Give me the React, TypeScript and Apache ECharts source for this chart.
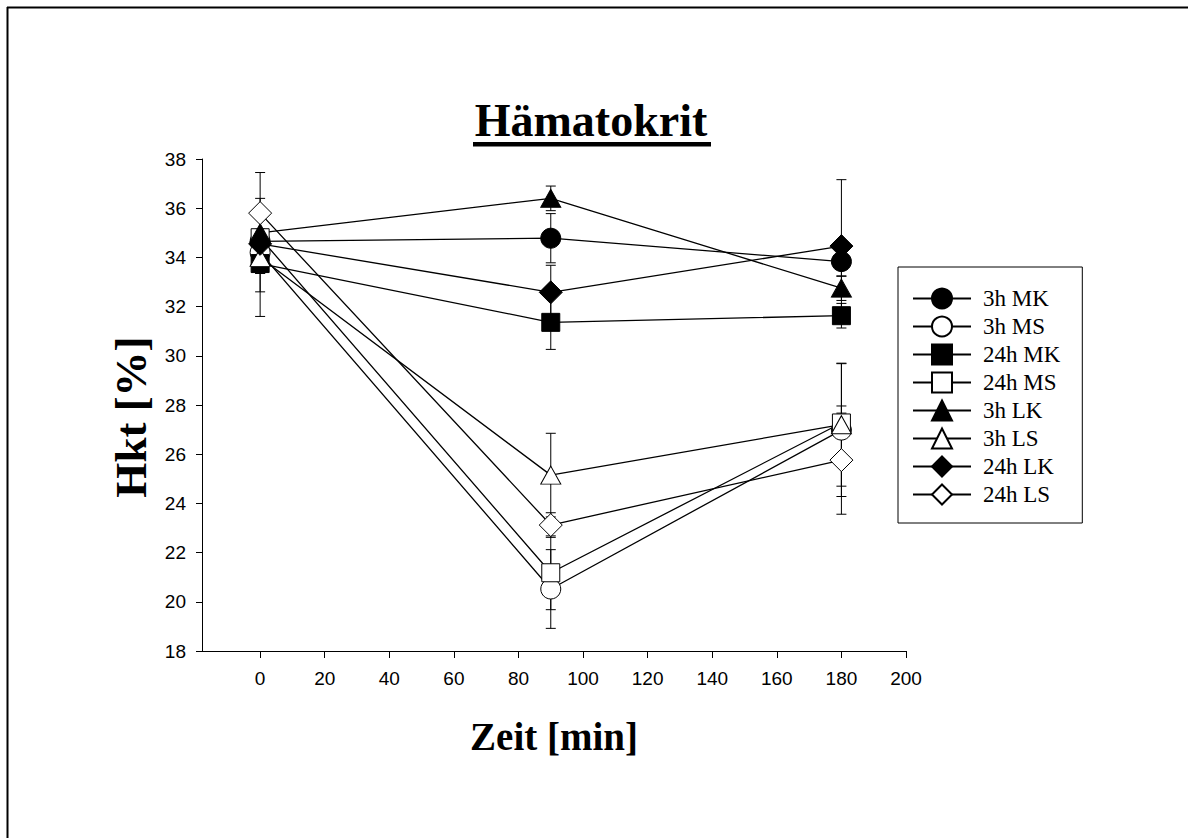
import React, { useEffect, useRef } from "react";
import * as echarts from "echarts";

const times = [0, 90, 180];
const seriesNames = ["3h MK", "3h MS", "24h MK", "24h MS", "3h LK", "3h LS", "24h LK", "24h LS"];
const mk3 = [34.65, 34.78, 33.83];
const mk3Err = [0.5, 1.0, 0.6];
const ms3 = [34.2, 20.52, 26.98];
const ms3Err = [1.6, 1.6, 2.7];
const mk24 = [33.75, 31.36, 31.63];
const mk24Err = [0.4, 1.1, 0.5];
const ms24 = [34.8, 21.18, 27.27];
const ms24Err = [1.2, 1.5, 0.4];
const lk3 = [35.0, 36.4, 32.75];
const lk3Err = [0.8, 0.5, 0.5];
const ls3 = [34.0, 25.15, 27.2];
const ls3Err = [2.4, 1.7, 2.5];
const lk24 = [34.55, 32.58, 34.46];
const lk24Err = [1.2, 1.1, 2.7];
const ls24 = [35.8, 23.12, 25.76];
const ls24Err = [1.65, 0.5, 2.2];
const xTicks = [0, 20, 40, 60, 80, 100, 120, 140, 160, 180, 200];

const values = [mk3, ms3, mk24, ms24, lk3, ls3, lk24, ls24];
const errors = [mk3Err, ms3Err, mk24Err, ms24Err, lk3Err, ls3Err, lk24Err, ls24Err];
const symbols = ["circle", "circle", "rect", "rect", "triangle", "triangle", "diamond", "diamond"];
const symbolSizes: any[] = [20, 20, 18, 18, [20, 18], [20, 18], 23, 23];
const filled = [true, false, true, false, true, false, true, false];

export default function App() {
  const ref = useRef<HTMLDivElement>(null);
  useEffect(() => {
    if (!ref.current) return;
    const chart = echarts.init(ref.current, undefined, { renderer: "svg" });
    const lineSeries = seriesNames.map((name, i) => ({
      name,
      type: "line",
      data: times.map((t, j) => [t, values[i][j]]),
      symbol: symbols[i],
      symbolSize: symbolSizes[i],
      showAllSymbol: true,
      z: 3,
      lineStyle: { color: "#000", width: 1.3 },
      itemStyle: { color: filled[i] ? "#000" : "#fff", borderColor: "#000", borderWidth: 1 },
      emphasis: { disabled: true },
    }));
    const errData: number[][] = [];
    values.forEach((v, i) => v.forEach((y, j) => errData.push([times[j], y, errors[i][j]])));
    const errSeries = {
      type: "custom",
      z: 1,
      silent: true,
      data: errData,
      renderItem: (params: any, api: any) => {
        const x = api.value(0);
        const y = api.value(1);
        const e = api.value(2);
        const hi = api.coord([x, y + e]);
        const lo = api.coord([x, y - e]);
        const hw = 5;
        const st = { stroke: "#000", lineWidth: 1 };
        return {
          type: "group",
          children: [
            { type: "line", shape: { x1: hi[0], y1: hi[1], x2: lo[0], y2: lo[1] }, style: st },
            { type: "line", shape: { x1: hi[0] - hw, y1: hi[1], x2: hi[0] + hw, y2: hi[1] }, style: st },
            { type: "line", shape: { x1: lo[0] - hw, y1: lo[1], x2: lo[0] + hw, y2: lo[1] }, style: st },
          ],
        };
      },
    };
    chart.setOption({
      animation: false,
      backgroundColor: "#fff",
      grid: { left: 202, top: 159, width: 704, height: 492 },
      xAxis: {
        type: "value",
        min: -18,
        max: 200,
        splitLine: { show: false },
        axisLine: { onZero: false, lineStyle: { color: "#000", width: 1 } },
        axisTick: { customValues: xTicks, length: 7, lineStyle: { color: "#000" } },
        axisLabel: { customValues: xTicks, margin: 18, color: "#000", fontSize: 19, fontFamily: "Liberation Sans" },
      },
      yAxis: {
        type: "value",
        min: 18,
        max: 38,
        interval: 2,
        splitLine: { show: false },
        axisLine: { show: true, onZero: false, lineStyle: { color: "#000", width: 1 } },
        axisTick: { show: true, length: 6, lineStyle: { color: "#000" } },
        axisLabel: { margin: 16, color: "#000", fontSize: 19, fontFamily: "Liberation Sans" },
      },
      legend: {
        data: seriesNames,
        orient: "vertical",
        left: 898,
        top: 267,
        itemWidth: 58,
        itemHeight: 25,
        itemGap: 5,
        padding: [20, 22, 17, 14],
        borderColor: "#000",
        borderWidth: 1,
        selectedMode: false,
        textStyle: { fontFamily: "Liberation Serif", fontSize: 23, color: "#000", padding: [0, 0, 0, 7] },
      },
      graphic: [
        { type: "line", shape: { x1: 7, y1: 7.5, x2: 1188, y2: 7.5 }, style: { stroke: "#000", lineWidth: 2 } },
        { type: "line", shape: { x1: 7.5, y1: 7, x2: 7.5, y2: 838 }, style: { stroke: "#000", lineWidth: 2 } },
        {
          type: "text",
          x: 591,
          y: 120.5,
          style: { text: "Hämatokrit", font: "bold 46px 'Liberation Serif'", fill: "#000", textAlign: "center", textVerticalAlign: "middle" },
        },
        { type: "rect", shape: { x: 473, y: 142, width: 238, height: 4.5 }, style: { fill: "#000" } },
        {
          type: "text",
          x: 131,
          y: 417,
          rotation: Math.PI / 2,
          style: { text: "Hkt [%]", font: "bold 45px 'Liberation Serif'", fill: "#000", textAlign: "center", textVerticalAlign: "middle" },
        },
        {
          type: "text",
          x: 554,
          y: 736,
          style: { text: "Zeit [min]", font: "bold 39px 'Liberation Serif'", fill: "#000", textAlign: "center", textVerticalAlign: "middle" },
        },
      ],
      series: [errSeries, ...lineSeries],
    });
    return () => chart.dispose();
  }, []);
  return <div ref={ref} style={{ position: "fixed", left: 0, top: 0, width: 1195, height: 838 }} />;
}
